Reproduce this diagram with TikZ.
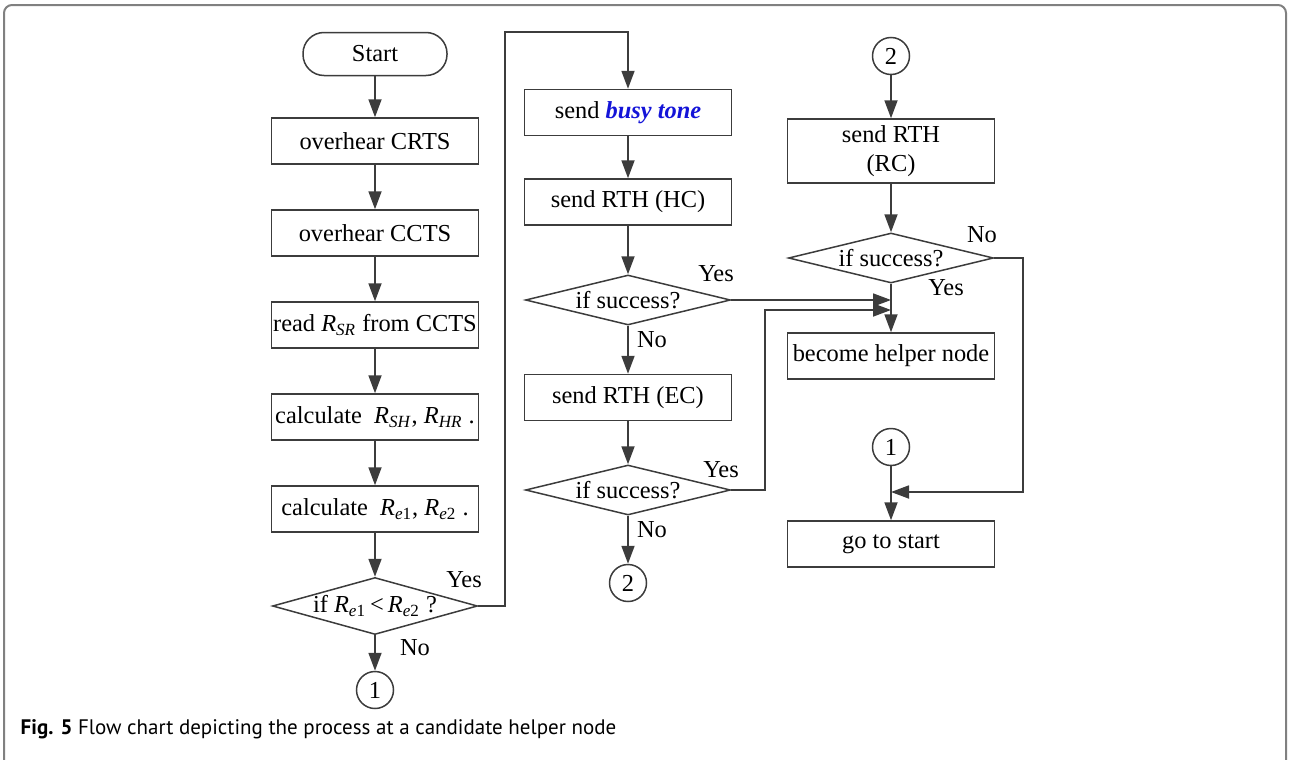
\documentclass[tikz,border=0pt]{standalone}
\usepackage{fontspec}
\setmainfont{Liberation Serif}
\newfontfamily\capfont{PT Sans}
\usetikzlibrary{shapes.geometric,arrows.meta,positioning}
\definecolor{linegray}{HTML}{3C3C3C}
\definecolor{framegray}{HTML}{808080}
\definecolor{toneblue}{HTML}{1414D8}
\newcommand{\rate}[1]{\textit{R}\textsubscript{\textit{#1}}}
\tikzset{
  flowbox/.style = {rectangle, draw=linegray, align=center, minimum width=103.5pt, minimum height=23pt, inner xsep=0.5pt, inner ysep=2pt},
  terminal/.style = {rectangle, rounded corners=10.5pt, draw=linegray, minimum width=72pt, minimum height=21.5pt},
  decision/.style = {diamond, aspect=3.6, inner sep=0pt, draw=linegray, minimum width=102.5pt, minimum height=25pt},
  connector/.style = {circle, draw=linegray, minimum size=18.5pt, inner sep=0pt},
  answer/.style = {inner sep=0pt},
  flow/.style = {->, draw=linegray, line width=0.9pt}
}

\begin{document}
\begin{tikzpicture}[x=0.5pt, y=-0.5pt, line width=0.75pt, >={Triangle[length=9pt,width=6.5pt]}, font=\fontsize{12.2}{14.5}\selectfont]
\useasboundingbox (0,0) rectangle (1291,760);
\draw[framegray, line width=1pt, rounded corners=4pt] (4,760) -- (4,5) -- (1286,5) -- (1286,760);

% left column
\node[terminal] (start) at (375,54) {Start};
\node[flowbox] (crts) at (375,141) {overhear CRTS};
\node[flowbox] (ccts) at (375,233) {overhear CCTS};
\node[flowbox] (readsr) at (375,325) {read \rate{SR} from CCTS};
\node[flowbox] (calch) at (375,417) {calculate\ \ \rate{SH}, \rate{HR}\ .};
\node[flowbox] (calce) at (375,509) {calculate\ \ \textit{R}\textsubscript{\textit{e}1}, \textit{R}\textsubscript{\textit{e}2}\ .};
\node[decision, minimum height=28.5pt] (cmp) at (375,606) {if\ \textit{R}\textsubscript{\textit{e}1}\,<\,\textit{R}\textsubscript{\textit{e}2}\ ?};
\node[connector] (outa) at (375,690) {1};
\node[answer] (cmpyes) at (464,580) {Yes};
\node[answer] (cmpno) at (415,648) {No};

\draw[flow] (start) -- (crts);
\draw[flow] (crts) -- (ccts);
\draw[flow] (ccts) -- (readsr);
\draw[flow] (readsr) -- (calch);
\draw[flow] (calch) -- (calce);
\draw[flow] (calce) -- (cmp);
\draw[flow] (cmp) -- (outa);

% middle column
\node[flowbox] (busy) at (628,112.5) {send \textcolor{toneblue}{\textbf{\textit{busy tone}}}};
\node[flowbox] (rthhc) at (628,202) {send RTH (HC)};
\node[decision] (okhc) at (628,300) {if success?};
\node[flowbox] (rthec) at (628,397.5) {send RTH (EC)};
\node[decision] (okec) at (628,490) {if success?};
\node[connector] (outb) at (628,583) {2};
\node[answer] (hcyes) at (716,274) {Yes};
\node[answer] (hcno) at (652,340) {No};
\node[answer] (ecyes) at (721,470) {Yes};
\node[answer] (ecno) at (652,530) {No};

\coordinate (loopup) at (505,32);
\draw[flow] (cmp.east) -| (loopup) -| (busy.north);
\draw[flow] (busy) -- (rthhc);
\draw[flow] (rthhc) -- (okhc);
\draw[flow] (okhc) -- (rthec);
\draw[flow] (rthec) -- (okec);
\draw[flow] (okec) -- (outb);

% right column
\node[connector] (inb) at (891,56) {2};
\node[flowbox, minimum height=32pt] (rthrc) at (891,151) {send RTH\\(RC)};
\node[decision] (okrc) at (891,258) {if success?};
\node[flowbox] (helper) at (891,356) {become helper node};
\node[connector] (ina) at (891,447) {1};
\node[flowbox] (gostart) at (891,544) {go to start};
\node[answer] (rcno) at (982,235) {No};
\node[answer] (rcyes) at (946,288) {Yes};

\draw[flow] (inb) -- (rthrc);
\draw[flow] (rthrc) -- (okrc);
\draw[flow] (okrc) -- (helper);
\draw[flow] (okhc.east) -- (okhc.east -| helper.north);
\coordinate (ecup) at (765,310);
\draw[flow] (okec.east) -| (ecup) -- (ecup -| helper.north);
\draw[flow] (ina) -- (gostart);
\coordinate (rcdown) at (1023,492);
\draw[flow] (okrc.east) -| (rcdown) -- (rcdown -| gostart.north);

% caption
\node[anchor=west, inner sep=0pt, font=\capfont\fontsize{10.5}{12}\selectfont] (caption) at (20,729)
  {\textbf{Fig. 5} Flow chart depicting the process at a candidate helper node};
\end{tikzpicture}
\end{document}
